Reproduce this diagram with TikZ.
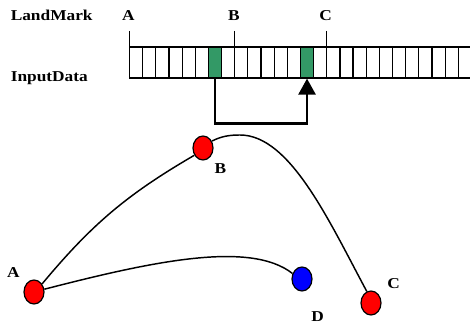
\documentclass[tikz,border=0pt]{standalone}
\usepackage{fontspec}
\setmainfont{Liberation Serif}
\newfontfamily\lblfont[FakeStretch=1.15]{Liberation Serif}
\usetikzlibrary{arrows.meta,shapes.geometric}
\definecolor{cellgreen}{RGB}{51,153,102}
\definecolor{ptred}{RGB}{255,0,0}
\definecolor{ptblue}{RGB}{0,0,255}
\tikzset{
  lbl/.style={font=\lblfont\bfseries\fontsize{11.3}{12}\selectfont, inner sep=0pt},
  cellbox/.style={draw=black, line width=0.9pt},
  greencell/.style={draw=black, line width=0.9pt, fill=cellgreen, minimum width=9.86pt, minimum height=23.25pt, inner sep=0pt},
  tickline/.style={draw=black, line width=0.9pt},
  conn/.style={draw=black, line width=1.9pt, -{Triangle[length=12pt,width=12.75pt]}},
  pt/.style={ellipse, draw=black, line width=0.9pt, minimum width=15pt, minimum height=18pt, inner sep=0pt},
  curve/.style={draw=black, line width=1.1pt}
}
\begin{document}
\begin{tikzpicture}[x=0.75pt,y=-0.75pt]
\useasboundingbox (0,0) rectangle (470,327);
\begin{scope}
\clip (0,0) rectangle (470,327);
% cells
\foreach \i in {0,...,26}
  \draw[cellbox] ({129.5+\i*13.15},47) rectangle ++(13.15,31);
\node[greencell] (g1) at ({129.5+6.5*13.15},62.5) {};
\node[greencell] (g2) at ({129.5+13.5*13.15},62.5) {};
\end{scope}
% ticks
\coordinate (ta) at (129.5,31);
\coordinate (tb) at ({129.5+8*13.15},31);
\coordinate (tc) at ({129.5+15*13.15},31);
\draw[tickline] (ta) -- ++(0,16);
\draw[tickline] (tb) -- ++(0,16);
\draw[tickline] (tc) -- ++(0,16);
% labels
\node[lbl, anchor=base west] (lm) at (10.5,20.7) {LandMark};
\node[lbl, anchor=base west] (inp) at (10.5,82) {InputData};
\node[lbl, anchor=base] (tA) at (128.5,21) {A};
\node[lbl, anchor=base] (tB) at (234,21) {B};
\node[lbl, anchor=base] (tC) at (325.5,21) {C};
% connector
\draw[conn] (g1.south) -- ++(0,45) -| (g2.south);
% points
\node[pt, fill=ptred] (nA) at (34,292) {};
\node[pt, fill=ptred] (nB) at (203,148) {};
\node[pt, fill=ptred] (nC) at (371,303) {};
\node[pt, fill=ptblue] (nD) at (302,279) {};
\node[lbl, anchor=base] (lA) at (13.5,277) {A};
\node[lbl, anchor=base] (lB) at (220.5,174) {B};
\node[lbl, anchor=base] (lC) at (393.5,288) {C};
\node[lbl, anchor=base] (lD) at (317.5,321) {D};
% curves
\coordinate (bcpeak) at (240,135);
\draw[curve] (nA.45) to[bend left=10] (nB.220);
\draw[curve] (nB.38) .. controls (222,136) and (230,135) .. (bcpeak)
  .. controls (290,135) and (329,221) .. (nC.110);
\draw[curve] (nA.15) .. controls (150,262) and (250,240) .. (nD.150);
\end{tikzpicture}
\end{document}
